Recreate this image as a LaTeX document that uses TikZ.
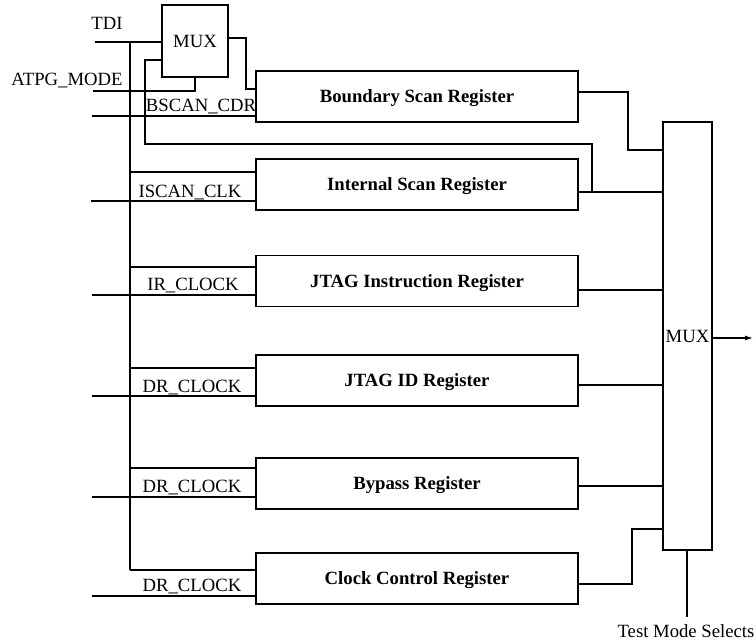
\documentclass[tikz,border=0pt]{standalone}
\usepackage{fontspec}
\setmainfont{Liberation Serif}
\usetikzlibrary{arrows.meta}
\begin{document}
\begin{tikzpicture}[x=1pt,y=-1pt,line width=1.1pt,
  reg/.style={draw,minimum width=322pt,minimum height=51pt,inner sep=0pt,text height=12.4pt,text depth=0pt,font=\fontsize{18.7}{22}\selectfont\bfseries},
  muxbox/.style={draw,inner sep=0pt,text height=12.4pt,text depth=0pt,font=\fontsize{18.7}{22}\selectfont},
  lbl/.style={anchor=base,inner sep=0pt,font=\fontsize{18.7}{22}\selectfont}]
\useasboundingbox (0,0) rectangle (756,642);

% nodes
\node[muxbox,minimum width=66pt,minimum height=72pt] (mux1) at (195,41) {MUX};
\node[reg] (bsr) at (417,96.5) {Boundary Scan Register};
\node[reg] (isr) at (417,184.5) {Internal Scan Register};
\node[reg] (ir) at (417,281) {JTAG Instruction Register};
\node[reg] (id) at (417,380.5) {JTAG ID Register};
\node[reg] (bp) at (417,483.5) {Bypass Register};
\node[reg] (cc) at (417,578.5) {Clock Control Register};
\node[muxbox,minimum width=49pt,minimum height=428pt] (mux2) at (687.5,336) {MUX};

% free ends
\coordinate (tdi) at (95,42);
\coordinate (atpg) at (93,91);
\coordinate (bt) at (130,42);
\coordinate (bb) at (130,570);
\coordinate (tms) at (687,617);
\coordinate (out) at (753,338);

% labels
\node[lbl] (tdiL) at (107,30) {TDI};
\node[lbl] (atpgL) at (67,85) {ATPG\_MODE};
\node[lbl] (bscL) at (201,111) {BSCAN\_CDR};
\node[lbl] (iscL) at (190,197) {ISCAN\_CLK};
\node[lbl] (irL) at (193,290) {IR\_CLOCK};
\node[lbl] (idL) at (192,392) {DR\_CLOCK};
\node[lbl] (bpL) at (192,492) {DR\_CLOCK};
\node[lbl] (ccL) at (192,591) {DR\_CLOCK};
\node[lbl] (tmsL) at (686,637) {Test Mode Selects};

% TDI and bus
\draw (tdi) -- (mux1.west |- tdi);
\draw (bt) -- (bb);
\draw (atpg) -| (mux1.south);
\draw (mux1.east |- 0,38) -| (246,89) -- (bsr.west |- 0,89);
\draw (92,116) -- (bsr.west |- 0,116);

% taps from bus
\draw (bt |- 0,172) -- (isr.west |- 0,172);
\draw (bt |- 0,267) -- (ir.west |- 0,267);
\draw (bt |- 0,368) -- (id.west |- 0,368);
\draw (bt |- 0,468) -- (bp.west |- 0,468);
\draw (bb) -- (cc.west |- bb);

% clock inputs
\draw (91,201) -- (isr.west |- 0,201);
\draw (92,295) -- (ir.west |- 0,295);
\draw (92,396) -- (id.west |- 0,396);
\draw (92,497) -- (bp.west |- 0,497);
\draw (92,596) -- (cc.west |- 0,596);

% outputs to MUX
\draw (bsr.east |- 0,92) -| (628,150) -- (mux2.west |- 0,150);
\draw (isr.east |- 0,192) -- (mux2.west |- 0,192);
\draw (592,192) -- (592,144) -| (145,60) -- (mux1.west |- 0,60);
\draw (ir.east |- 0,290) -- (mux2.west |- 0,290);
\draw (id.east |- 0,385) -- (mux2.west |- 0,385);
\draw (bp.east |- 0,486) -- (mux2.west |- 0,486);
\draw (cc.east |- 0,584) -| (632,529) -- (mux2.west |- 0,529);

% output and selects
\draw[-{Latex[length=8pt,width=5pt]}] (mux2.east |- out) -- (out);
\draw (mux2.south -| tms) -- (tms);
\end{tikzpicture}
\end{document}
